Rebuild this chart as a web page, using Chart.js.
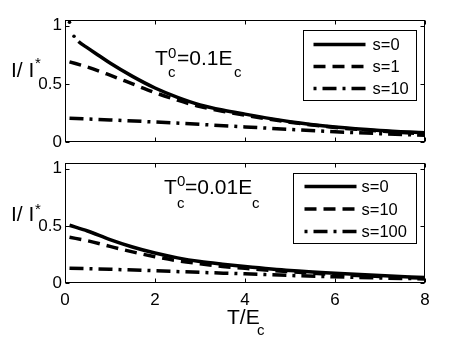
<!DOCTYPE html>
<html lang="en">
<head>
<meta charset="UTF-8">
<title>I / I* vs T/Ec</title>
<script src="https://cdn.jsdelivr.net/npm/chart.js"></script>
<style>
  html, body { margin: 0; padding: 0; background: #fff; }
  #fig { position: relative; width: 469px; height: 347px; overflow: hidden;
         font-family: "Liberation Sans", Arial, sans-serif; color: #000; }
  .panel { position: absolute; left: 0; width: 469px; }
  .txt { position: absolute; line-height: 1; white-space: nowrap; font-size: 21px; }
  .sm { font-size: 15px; }
</style>
</head>
<body>
<div id="fig">
  <div class="panel" style="top:0;height:150px"><canvas id="topChart"></canvas></div>
  <div class="panel" style="top:150px;height:197px"><canvas id="bottomChart"></canvas></div>

  <!-- y labels -->
  <span class="txt" style="left:11px;top:59px">I/ I</span><span class="txt sm" style="left:35px;top:55px">*</span>
  <span class="txt" style="left:11px;top:203px">I/ I</span><span class="txt sm" style="left:35px;top:201px">*</span>

  <!-- annotations -->
  <span class="txt" style="left:155px;top:47px">T</span>
  <span class="txt sm" style="left:168px;top:45px">0</span>
  <span class="txt sm" style="left:168px;top:64px">c</span>
  <span class="txt" style="left:177px;top:47px">=0.1E</span>
  <span class="txt sm" style="left:234px;top:64px">c</span>

  <span class="txt" style="left:164px;top:176px">T</span>
  <span class="txt sm" style="left:177px;top:173px">0</span>
  <span class="txt sm" style="left:177px;top:195px">c</span>
  <span class="txt" style="left:185px;top:176px">=0.01E</span>
  <span class="txt sm" style="left:252px;top:195px">c</span>

  <!-- x label -->
  <span class="txt" style="left:227px;top:306px">T/E</span>
  <span class="txt sm" style="left:257px;top:322px">c</span>
</div>

<script>
// T/Ec sample positions
var tTopS0 = [0.1, 0.2, 0.3, 0.5, 0.75, 1, 1.5, 2, 2.5, 3, 3.5, 4, 5, 6, 7, 8];
var tGrid = [0.1, 0.5, 1, 1.5, 2, 2.5, 3, 3.5, 4, 5, 6, 7, 8];
var tCoarse = [0.1, 1, 2, 3, 4, 5, 6, 7, 8];

// upper panel, Tc0 = 0.1 Ec
var topS0 = [1.03, 0.91, 0.865, 0.81, 0.745, 0.68, 0.565, 0.465, 0.385, 0.32, 0.275, 0.24, 0.175, 0.13, 0.10, 0.08];
var topS1 = [0.69, 0.645, 0.575, 0.5, 0.425, 0.36, 0.305, 0.265, 0.23, 0.17, 0.125, 0.095, 0.07];
var topS10 = [0.205, 0.19, 0.172, 0.152, 0.13, 0.108, 0.088, 0.072, 0.058];

// lower panel, Tc0 = 0.01 Ec
var botS0 = [0.505, 0.455, 0.38, 0.315, 0.262, 0.22, 0.188, 0.165, 0.145, 0.11, 0.085, 0.065, 0.048];
var botS10 = [0.40, 0.37, 0.32, 0.272, 0.23, 0.195, 0.168, 0.145, 0.128, 0.098, 0.075, 0.057, 0.043];
var botS100 = [0.13, 0.12, 0.107, 0.093, 0.08, 0.066, 0.054, 0.044, 0.036];

var xTicks = [0, 2, 4, 6, 8];
var yTicks = [0, 0.5, 1];

var FONT = '"Liberation Sans", Arial, sans-serif';
var DASH = [12, 7];
var DASHDOT = [14, 6, 3, 6];

function pts(xs, ys) {
    return xs.map(function(x, i) { return { x: x, y: ys[i] }; });
}

function line(label, xs, ys, dash) {
    return {
        label: label,
        data: pts(xs, ys),
        borderColor: '#000',
        borderWidth: 3.5,
        borderDash: dash,
        cubicInterpolationMode: 'monotone',
        pointRadius: 0,
        fill: false
    };
}

// box, inward ticks and boxed legend, like the original figure
var framePlugin = {
    id: 'frame',
    afterDraw: function(chart, args, opts) {
        var ctx = chart.ctx, a = chart.chartArea;
        var xs = chart.scales.x, ys = chart.scales.y;
        ctx.save();
        ctx.strokeStyle = '#000';
        ctx.lineWidth = 1;
        ctx.setLineDash([]);
        var l = Math.round(a.left) + 0.5, r = Math.round(a.right) - 0.5;
        var t = Math.round(a.top) + 0.5, b = Math.round(a.bottom) - 0.5;
        ctx.strokeRect(l, t, r - l, b - t);
        ctx.beginPath();
        xTicks.forEach(function(v) {
            var px = Math.round(xs.getPixelForValue(v)) + 0.5;
            ctx.moveTo(px, b); ctx.lineTo(px, b - 4);
            ctx.moveTo(px, t); ctx.lineTo(px, t + 4);
        });
        yTicks.forEach(function(v) {
            var py = Math.round(ys.getPixelForValue(v)) + 0.5;
            ctx.moveTo(l, py); ctx.lineTo(l + 4, py);
            ctx.moveTo(r, py); ctx.lineTo(r - 4, py);
        });
        ctx.stroke();

        var L = opts.box;
        var bx = Math.round(r - L.right - L.width) + 0.5;
        var by = Math.round(t + L.top) + 0.5;
        ctx.fillStyle = '#fff';
        ctx.fillRect(bx, by, L.width, L.height);
        ctx.strokeRect(bx, by, L.width, L.height);
        chart.data.datasets.forEach(function(ds, i) {
            var y = by + L.first + i * L.gap;
            var dash = ds.borderDash || [];
            ctx.setLineDash(dash);
            // dash-dot sample starts with the dot, as in the original
            ctx.lineDashOffset = dash.length === 4 ? dash[0] + dash[1] : 0;
            ctx.lineWidth = ds.borderWidth;
            ctx.beginPath();
            ctx.moveTo(bx + L.lineFrom, y);
            ctx.lineTo(bx + L.lineTo, y);
            ctx.stroke();
            ctx.setLineDash([]);
            ctx.lineDashOffset = 0;
            ctx.fillStyle = '#000';
            ctx.font = '16.5px ' + FONT;
            ctx.textBaseline = 'middle';
            ctx.fillText(ds.label, bx + L.textX, y + 1);
        });
        ctx.restore();
    }
};

function options(showX, pad, box) {
    return {
        responsive: true,
        maintainAspectRatio: false,
        animation: false,
        layout: { padding: pad },
        plugins: {
            legend: { display: false },
            tooltip: { enabled: false },
            frame: { box: box }
        },
        scales: {
            x: {
                type: 'linear', min: 0, max: 8,
                ticks: { stepSize: 2, display: showX, color: '#000', padding: 7, maxRotation: 0,
                         font: { size: 17, family: FONT } },
                grid: { display: false, drawTicks: false },
                border: { display: false },
                afterFit: function(s) { s.height = showX ? 30 : 0; s.paddingLeft = 0; s.paddingRight = 0; }
            },
            y: {
                min: 0, max: 1.05,
                ticks: { stepSize: 0.5, includeBounds: false, color: '#000', padding: 3,
                         font: { size: 17, family: FONT },
                         callback: function(v) { return String(v); } },
                grid: { display: false, drawTicks: false },
                border: { display: false },
                afterFit: function(s) { s.width = 40; s.paddingTop = 0; s.paddingBottom = 0; }
            }
        }
    };
}

// s=0 in the upper panel: the first two samples show only as dots
var topSolid = line('s=0', tTopS0, topS0, []);
topSolid.segment = {
    borderColor: function(c) { return c.p0DataIndex < 2 ? 'rgba(0,0,0,0)' : '#000'; }
};
topSolid.pointRadius = function(c) { return c.dataIndex < 2 ? 1.8 : 0; };
topSolid.pointBackgroundColor = '#000';
topSolid.pointBorderWidth = 0;

new Chart(document.getElementById('topChart'), {
    type: 'line',
    data: { datasets: [
        topSolid,
        line('s=1', tGrid, topS1, DASH),
        line('s=10', tCoarse, topS10, DASHDOT)
    ] },
    options: options(false, { left: 25, right: 44, top: 20, bottom: 8 },
        { right: 9, top: 9, width: 113, height: 70, first: 14, gap: 22, lineFrom: 10, lineTo: 62, textX: 69 }),
    plugins: [framePlugin]
});

new Chart(document.getElementById('bottomChart'), {
    type: 'line',
    data: { datasets: [
        line('s=0', tGrid, botS0, []),
        line('s=10', tGrid, botS10, DASH),
        line('s=100', tCoarse, botS100, DASHDOT)
    ] },
    options: options(true, { left: 25, right: 44, top: 13, bottom: 34 },
        { right: 9, top: 9, width: 123, height: 70, first: 13, gap: 22.5, lineFrom: 11, lineTo: 63, textX: 68 }),
    plugins: [framePlugin]
});
</script>
</body>
</html>
